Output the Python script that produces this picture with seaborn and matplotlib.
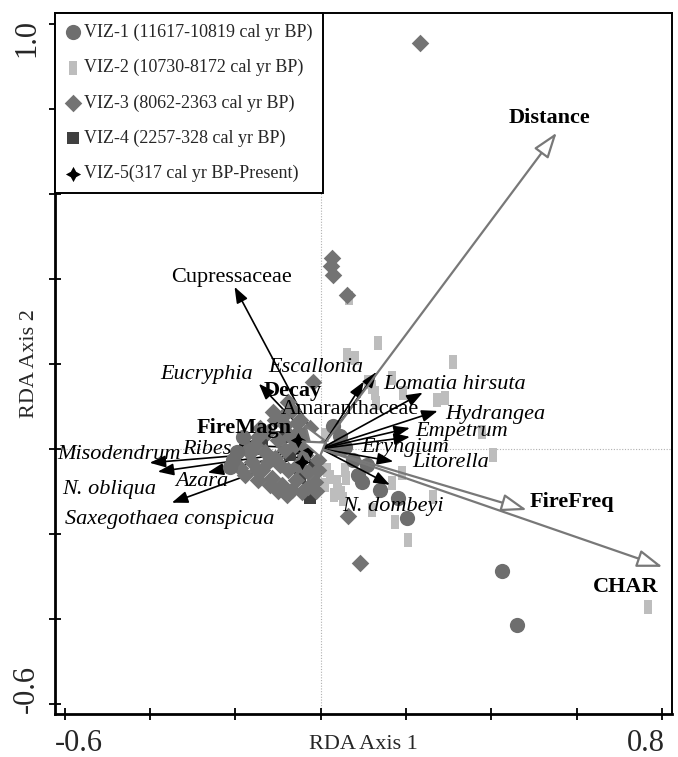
import numpy as np
import pandas as pd
import matplotlib
matplotlib.use("Agg")
import matplotlib.pyplot as plt
import matplotlib.transforms as mtransforms
from matplotlib.path import Path
import seaborn as sns

sns.set_theme(style="white")
plt.rcParams['font.family'] = ['Liberation Serif', 'DejaVu Serif']

# ---------------- data ----------------
zone_labels = ["VIZ-1 (11617-10819 cal yr BP)",
               "VIZ-2 (10730-8172 cal yr BP)",
               "VIZ-3 (8062-2363 cal yr BP)",
               "VIZ-4 (2257-328 cal yr BP)",
               "VIZ-5(317 cal yr BP-Present)"]

viz1_x = [0.424, 0.459, 0.202, 0.180, 0.138, 0.096, 0.087, 0.108, 0.075, 0.056,
          0.033, 0.028, 0.045, -0.183, -0.197, -0.206, -0.213]
viz1_y = [-0.287, -0.414, -0.162, -0.115, -0.096, -0.078, -0.061, -0.038, -0.026, 0.005,
          0.002, 0.054, 0.031, 0.028, -0.007, -0.026, -0.042]

viz2_x = [0.766, 0.204, 0.173, 0.262, 0.190, 0.166, 0.403, 0.377, 0.309, 0.134,
          0.061, 0.080, 0.066, 0.166, 0.110, 0.120, 0.129, 0.192, 0.291, 0.272,
          0.037, 0.120, 0.052, 0.021, 0.056, 0.009, 0.040, 0.127, 0.010, 0.048,
          0.015, 0.030, 0.060]
viz2_y = [-0.372, -0.214, -0.172, -0.113, -0.056, -0.080, -0.014, 0.040, 0.205, 0.249,
          0.221, 0.214, 0.355, 0.167, 0.158, 0.146, 0.108, 0.132, 0.120, 0.115,
          -0.078, -0.144, -0.118, -0.066, -0.049, -0.085, -0.096, 0.132, 0.033, -0.103,
          -0.050, -0.110, -0.070]

viz3_x = [0.232, 0.026, 0.023, 0.028, 0.061, 0.091, 0.063, -0.019, -0.112, -0.068,
          -0.049, -0.084, -0.124, -0.101, -0.073, -0.155, -0.131, -0.108, -0.084, -0.061,
          -0.037, -0.026, -0.162, -0.138, -0.115, -0.091, -0.068, -0.045, -0.077, -0.054,
          -0.030, -0.014, -0.178, -0.148, -0.037, -0.007, -0.096, -0.124, -0.002, -0.021,
          -0.059, -0.166, -0.148, -0.170, -0.143, -0.108, -0.077, -0.054, -0.037, -0.007,
          -0.120, -0.100, -0.080, -0.030, -0.150, -0.190, -0.010, -0.055, -0.090]
viz3_y = [0.955, 0.449, 0.431, 0.409, 0.362, -0.268, -0.158, 0.158, 0.087, 0.092,
          0.068, 0.056, 0.040, 0.021, 0.031, 0.009, -0.007, -0.021, -0.002, 0.009,
          0.026, 0.049, -0.031, -0.049, -0.068, -0.085, -0.096, -0.101, -0.049, -0.038,
          -0.054, -0.078, -0.061, -0.073, -0.014, -0.026, -0.038, -0.031, 0.009, 0.021,
          -0.073, -0.009, 0.028, 0.000, 0.049, 0.068, 0.110, 0.040, 0.005, -0.049,
          -0.085, -0.100, -0.110, -0.090, -0.050, -0.045, -0.100, 0.060, 0.075]

viz4_x = [-0.026, -0.091, -0.049, -0.073, -0.138, -0.014]
viz4_y = [-0.115, 0.028, -0.068, -0.014, 0.021, -0.038]

viz5_x = [-0.045, -0.054, -0.026]
viz5_y = [-0.031, 0.021, -0.002]

species_names = ["Cupressaceae", "Eucryphia", "Escallonia", "Amaranthaceae",
                 "Lomatia hirsuta", "Hydrangea", "Empetrum", "Eryngium", "Litorella",
                 "N. dombeyi", "Ribes", "Misodendrum", "N. obliqua", "Azara",
                 "Saxegothaea conspicua"]
species_x = [-0.202, -0.145, 0.131, 0.101, 0.239, 0.274, 0.209, 0.209, 0.170,
             0.162, -0.195, -0.401, -0.382, -0.265, -0.349]
species_y = [0.381, 0.153, 0.181, 0.158, 0.132, 0.089, 0.049, 0.028, -0.030,
             -0.085, 0.009, -0.033, -0.054, -0.056, -0.127]
species_label_x = [-0.209, -0.267, -0.012, 0.068, 0.314, 0.410, 0.330, 0.197, 0.305,
                   0.169, -0.267, -0.473, -0.497, -0.279, -0.354]
species_label_y = [0.402, 0.174, 0.191, 0.092, 0.151, 0.080, 0.040, 0.002, -0.033,
                   -0.136, -0.002, -0.014, -0.096, -0.078, -0.167]
species_italic = [False, True, True, False, True, True, True, True, True,
                  True, True, True, True, True, True]

env_names = ["Distance", "FireFreq", "CHAR", "Decay", "FireMagn"]
env_x = [0.553, 0.483, 0.801, -0.040, -0.050]
env_y = [0.744, -0.144, -0.278, 0.060, 0.020]
env_label_x = [0.537, 0.588, 0.715, -0.066, -0.180]
env_label_y = [0.779, -0.125, -0.325, 0.136, 0.049]

x_ticks = [-0.6, -0.4, -0.2, 0.0, 0.2, 0.4, 0.6, 0.8]
x_tick_labels = ["-0.6", "", "", "", "", "", "", "0.8"]
y_ticks = [-0.6, -0.4, -0.2, 0.0, 0.2, 0.4, 0.6, 0.8, 1.0]
y_tick_labels = ["-0.6", "", "", "", "", "", "", "", "1.0"]

# ---------------- figure ----------------
fig = plt.figure(figsize=(6.78, 7.57), dpi=100)
ax = fig.add_axes([0.081, 0.057, 0.910, 0.926])
ax.set_xlim(-0.623, 0.823)
ax.set_ylim(-0.624, 1.026)

ax.axhline(0, color="#b0b0b0", lw=0.8, ls=(0, (1, 1.5)), zorder=0)
ax.axvline(0, color="#b0b0b0", lw=0.8, ls=(0, (1, 1.5)), zorder=0)

rect_marker = Path([(-0.28, -0.5), (0.28, -0.5), (0.28, 0.5), (-0.28, 0.5), (-0.28, -0.5)],
                   [Path.MOVETO, Path.LINETO, Path.LINETO, Path.LINETO, Path.CLOSEPOLY])

styles = {
    0: dict(x=viz1_x, y=viz1_y, marker="o", color="#6e6e6e", s=120),
    1: dict(x=viz2_x, y=viz2_y, marker=rect_marker, color="#bdbdbd", s=110),
    2: dict(x=viz3_x, y=viz3_y, marker="D", color="#737373", s=80),
    3: dict(x=viz4_x, y=viz4_y, marker="s", color="#404040", s=85),
    4: dict(x=viz5_x, y=viz5_y, marker=(4, 1, 0), color="black", s=120),
}
for i in [1, 3, 2, 0, 4]:
    st = styles[i]
    df = pd.DataFrame({"x": st["x"], "y": st["y"]})
    sns.scatterplot(data=df, x="x", y="y", marker=st["marker"], color=st["color"],
                    s=st["s"], linewidth=0, ax=ax, label=zone_labels[i], zorder=3)

# species arrows (left-pointing ones disappear under the point cloud)
for name, tx, ty, lx, ly, it in zip(species_names, species_x, species_y,
                                     species_label_x, species_label_y, species_italic):
    ax.annotate("", xy=(tx, ty), xytext=(0, 0),
                arrowprops=dict(arrowstyle="-|>,head_length=0.8,head_width=0.3",
                                color="black", lw=1.2, shrinkA=0, shrinkB=0),
                zorder=2 if tx < 0 else 4)
    ax.text(lx, ly, name, fontsize=16, style="italic" if it else "normal",
            ha="center", va="center", color="black", zorder=5)

# environmental arrows
for name, tx, ty, lx, ly in zip(env_names, env_x, env_y, env_label_x, env_label_y):
    ax.annotate("", xy=(tx, ty), xytext=(0, 0),
                arrowprops=dict(arrowstyle="-|>,head_length=1.3,head_width=0.45",
                                facecolor="white", edgecolor="#787878", lw=1.6,
                                shrinkA=0, shrinkB=0),
                zorder=4)
    ax.text(lx, ly, name, fontsize=16, fontweight="bold",
            ha="center", va="center", color="black", zorder=5)

# axes styling
for sp in ax.spines.values():
    sp.set_color("black")
    sp.set_linewidth(1.4)
ax.spines["left"].set_linewidth(2.0)
ax.spines["bottom"].set_linewidth(2.0)

ax.set_xticks(x_ticks)
ax.set_xticklabels(x_tick_labels, fontsize=22)
ax.set_yticks(y_ticks)
ax.set_yticklabels(y_tick_labels, fontsize=22, rotation=90)
ax.tick_params(axis="both", direction="inout", length=8, width=1.3, color="black",
               bottom=True, left=True)
ax.tick_params(axis="x", pad=7)
ax.tick_params(axis="y", pad=6)

xl = ax.get_xticklabels()
xl[0].set_ha("left")
xl[0].set_transform(xl[0].get_transform() + mtransforms.ScaledTranslation(-10 / 100, 0, fig.dpi_scale_trans))
xl[-1].set_ha("right")
xl[-1].set_transform(xl[-1].get_transform() + mtransforms.ScaledTranslation(3 / 100, 0, fig.dpi_scale_trans))
yl = ax.get_yticklabels()
yl[0].set_va("bottom")
yl[0].set_transform(yl[0].get_transform() + mtransforms.ScaledTranslation(0, -9 / 100, fig.dpi_scale_trans))
yl[-1].set_va("top")
yl[-1].set_transform(yl[-1].get_transform() + mtransforms.ScaledTranslation(0, 5 / 100, fig.dpi_scale_trans))

ax.set_xlabel("RDA Axis 1", fontsize=16)
ax.xaxis.set_label_coords(0.5, -0.030)
ax.set_ylabel("RDA Axis 2", fontsize=16)
ax.yaxis.set_label_coords(-0.026, 0.5)

# legend in the original order
h, l = ax.get_legend_handles_labels()
order = [l.index(z) for z in zone_labels]
leg = ax.legend([h[k] for k in order], [l[k] for k in order], loc="upper left",
                bbox_to_anchor=(0, 1), borderaxespad=0, frameon=True, fancybox=False,
                edgecolor="black", framealpha=1, fontsize=13, labelspacing=1.0,
                handletextpad=0.2, borderpad=0.6, handlelength=0.8, scatterpoints=1)
leg.get_frame().set_linewidth(1.4)
leg.set_zorder(10)

fig.savefig("out.png", dpi=100)
